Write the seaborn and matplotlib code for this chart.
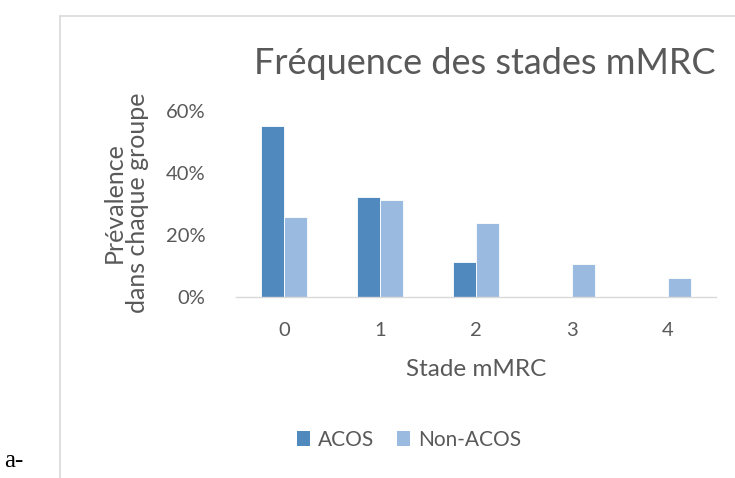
import pandas as pd
import matplotlib.pyplot as plt
import seaborn as sns
from matplotlib.lines import Line2D
from matplotlib.patches import Patch
from matplotlib.ticker import PercentFormatter, FixedLocator

# Data
stades = ["0", "1", "2", "3", "4"]
acos = [0.553, 0.322, 0.114, 0.0, 0.0]
non_acos = [0.258, 0.314, 0.238, 0.105, 0.062]
groupes = ["ACOS", "Non-ACOS"]
couleurs = ["#4F89BE", "#9BBAE0"]

df = pd.DataFrame({
    "stade": stades * 2,
    "prevalence": acos + non_acos,
    "groupe": [groupes[0]] * len(stades) + [groupes[1]] * len(stades),
})

sns.set_style("white")
plt.rcParams["font.family"] = ["Lato", "DejaVu Sans"]
grey = "#595959"

fig = plt.figure(figsize=(7.35, 4.78), dpi=100)
ax = fig.add_axes([236 / 735, 1 - 297 / 478, 480 / 735, 186 / 478])

sns.barplot(data=df, x="stade", y="prevalence", hue="groupe",
            palette=couleurs, saturation=1, width=0.475, gap=0, ax=ax,
            edgecolor="white", linewidth=0.6, legend=False)

ax.set_ylim(0, 0.6)
ax.set_xlim(-0.5, 4.5)
ax.yaxis.set_major_formatter(PercentFormatter(1.0, decimals=0))
ax.set_yticks([0, 0.2, 0.4, 0.6])
ax.tick_params(axis="y", length=0, pad=22, labelsize=14.5, labelcolor=grey)
ax.tick_params(axis="x", which="major", length=0, pad=18, labelsize=14.5, labelcolor=grey)
ax.xaxis.set_minor_locator(FixedLocator([-0.5, 0.5, 1.5, 2.5, 3.5, 4.5]))
ax.tick_params(axis="x", which="minor", length=8, width=1, color="#D9D9D9", direction="out")

for side in ["top", "right", "left"]:
    ax.spines[side].set_visible(False)
ax.spines["bottom"].set_color("#D9D9D9")
ax.spines["bottom"].set_linewidth(1)

ax.set_xlabel("")
ax.set_ylabel("")

fig.text(476 / 735, 1 - 370 / 478, "Stade mMRC", ha="center", va="center",
         fontsize=17.5, color=grey)
fig.text(126 / 735, 1 - 203 / 478, "Prévalence\ndans chaque groupe", ha="center",
         va="center", rotation=90, fontsize=18, color=grey, linespacing=1.05)
fig.text(485 / 735, 1 - 63 / 478, "Fréquence des stades mMRC", ha="center",
         va="center", fontsize=26, color=grey)

handles = [Patch(facecolor=c, edgecolor="none") for c in couleurs]
fig.legend(handles, groupes, loc="center", bbox_to_anchor=(409 / 735, 1 - 440 / 478),
           ncol=2, frameon=False, fontsize=15, labelcolor=grey,
           handlelength=0.6, handleheight=0.7, handletextpad=0.4, columnspacing=1.1)

# Outer chart frame (partially visible)
fig.add_artist(Line2D([60 / 735, 60 / 735], [0, 1 - 16 / 478], color="#D9D9D9",
                      lw=1.2, transform=fig.transFigure))
fig.add_artist(Line2D([60 / 735, 1], [1 - 16 / 478, 1 - 16 / 478], color="#D9D9D9",
                      lw=1.2, transform=fig.transFigure))

fig.text(4 / 735, 6 / 478, "a-", ha="left", va="bottom", fontsize=18,
         color="black", family=["Liberation Serif", "DejaVu Serif"])

fig.savefig("out.png", dpi=100)
